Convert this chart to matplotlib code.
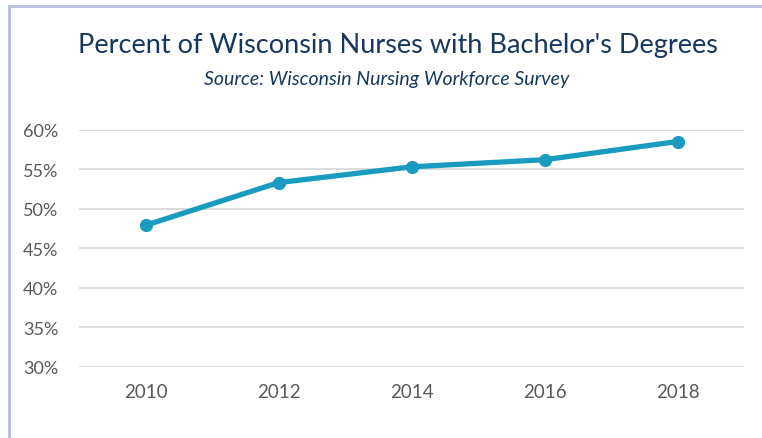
import matplotlib
matplotlib.use("Agg")
import matplotlib.pyplot as plt
from matplotlib.lines import Line2D
from matplotlib.ticker import FuncFormatter

years = ["2010", "2012", "2014", "2016", "2018"]
pct = [47.9, 53.3, 55.3, 56.2, 58.5]
yticks = [30, 35, 40, 45, 50, 55, 60]

title = "Percent of Wisconsin Nurses with Bachelor's Degrees"
subtitle = "Source: Wisconsin Nursing Workforce Survey"

W, H = 762, 439
plt.rcParams['font.family'] = ['Lato', 'DejaVu Sans']
fig = plt.figure(figsize=(W / 100, H / 100), dpi=100)
fig.patch.set_facecolor("white")

L, R = 79, 744
T, B = 130.7, 367.7
ax = fig.add_axes([L / W, 1 - B / H, (R - L) / W, (B - T) / H])

x = list(range(len(years)))
ax.plot(x, pct, color="#1A9BC0", lw=3.8, marker="o", ms=8.5,
        solid_capstyle="round", zorder=3)
ax.set_xlim(-0.5, len(years) - 0.5)
ax.set_ylim(30, 60)
ax.set_yticks(yticks)
ax.yaxis.set_major_formatter(FuncFormatter(lambda v, p: f"{v:.0f}%"))
ax.set_xticks(x)
ax.set_xticklabels(years)
ax.grid(axis="y", color="#D9D9D9", lw=1.3)
ax.set_axisbelow(True)
for s in ax.spines.values():
    s.set_visible(False)
ax.tick_params(length=0, colors="#595959")
ax.tick_params(axis="y", pad=15, labelsize=13)
ax.tick_params(axis="x", pad=12, labelsize=13.5)

fig.text(398 / W, 1 - 46 / H, title, ha="center", va="center",
         fontsize=19.5, color="#17375E")
fig.text(387 / W, 1 - 80 / H, subtitle, ha="center", va="center",
         fontsize=14, style="italic", color="#17375E")

border = "#B8BFD8"
fig.add_artist(Line2D([9 / W, 9 / W], [0, 1 - 7 / H], transform=fig.transFigure,
                      color=border, lw=2))
fig.add_artist(Line2D([9 / W, 1], [1 - 7 / H, 1 - 7 / H], transform=fig.transFigure,
                      color=border, lw=2))

fig.savefig("out.png", dpi=100, facecolor="white")
